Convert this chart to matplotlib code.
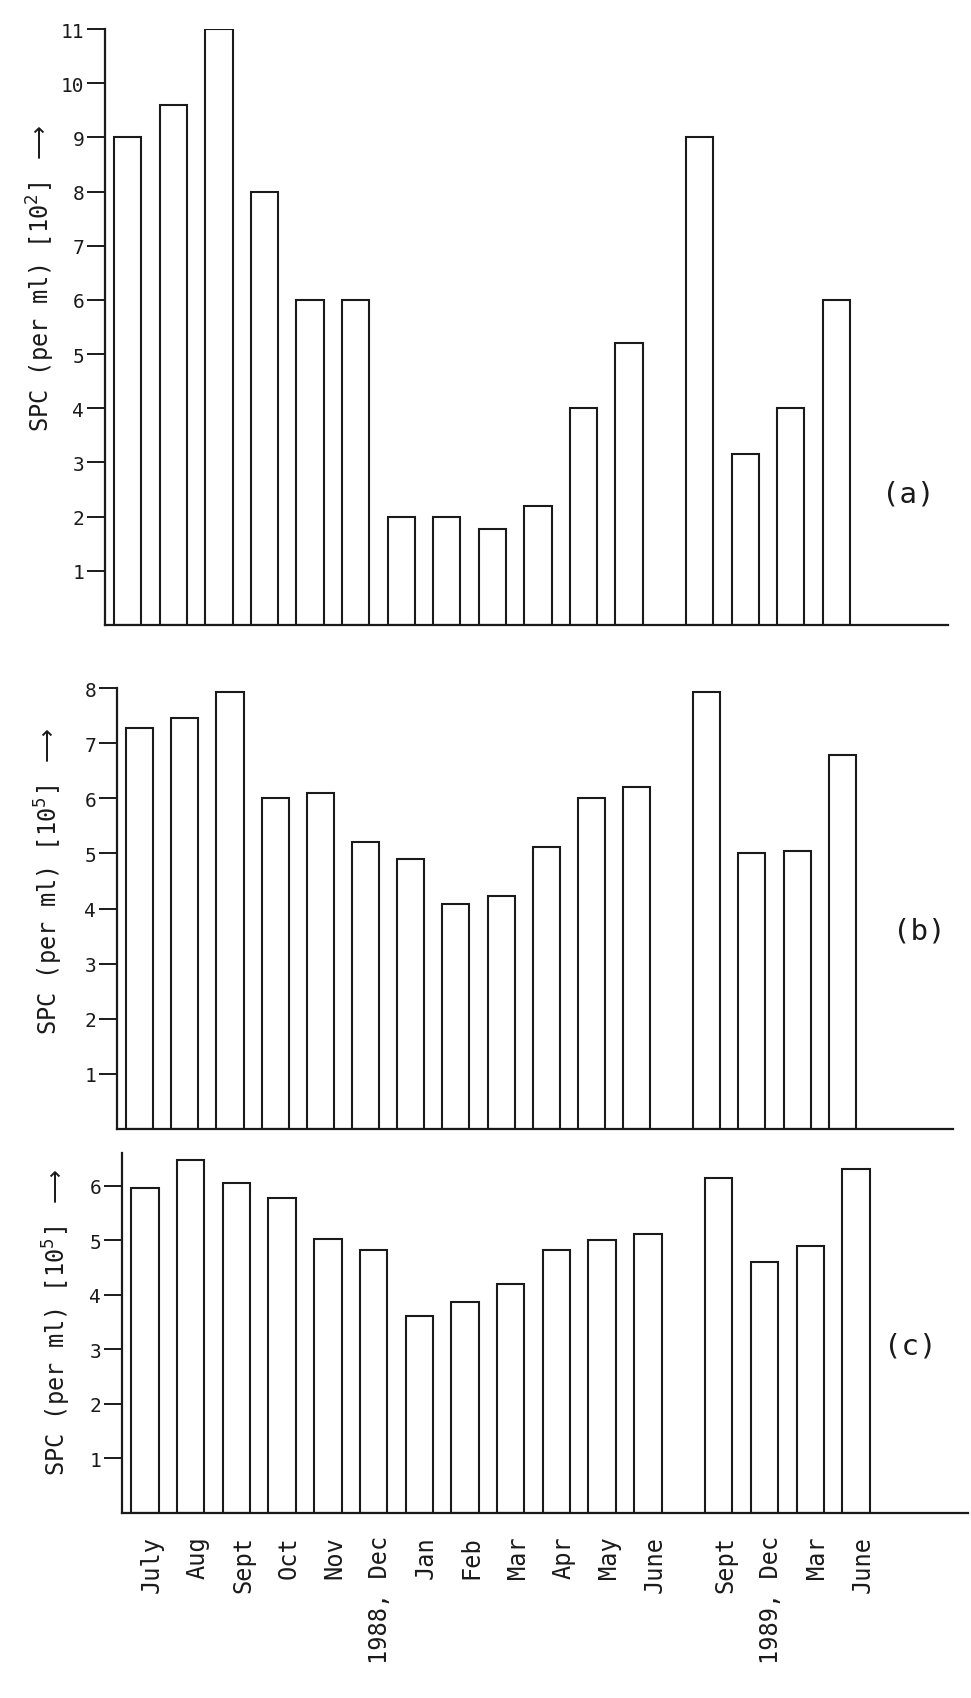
import matplotlib

matplotlib.use("Agg")

import matplotlib.pyplot as plt
import numpy as np


FIG_W, FIG_H = 971, 1699
FONT = "DejaVu Sans Mono"

months = ["July", "Aug", "Sept", "Oct", "Nov", "1988, Dec", "Jan", "Feb",
          "Mar", "Apr", "May", "June", "Sept", "1989, Dec", "Mar", "June"]

# SPC values
spc_a = [9.0, 9.6, 11.0, 8.0, 6.0, 6.0, 2.0, 2.0, 1.78, 2.2, 4.0, 5.2,
         9.0, 3.15, 4.0, 6.0]
spc_b = [7.28, 7.46, 7.93, 6.0, 6.1, 5.2, 4.9, 4.08, 4.22, 5.12, 6.0, 6.2,
         7.93, 5.0, 5.05, 6.79]
spc_c = [5.95, 6.47, 6.05, 5.77, 5.03, 4.83, 3.62, 3.87, 4.2, 4.82, 5.0, 5.12,
         6.15, 4.6, 4.9, 6.3]

ticks_a = list(range(1, 12))
ticks_b = list(range(1, 9))
ticks_c = list(range(1, 7))


def px_axes(fig, left, top, right, bottom):
    return fig.add_axes([left / FIG_W, 1 - bottom / FIG_H,
                         (right - left) / FIG_W, (bottom - top) / FIG_H])


def draw_panel(ax, values, ticks, ymax, positions):
    ax.bar(positions, values, width=0.6, facecolor="white",
           edgecolor="#1a1a1a", linewidth=1.5, align="center")
    ax.set_xlim(-0.5, 18)
    ax.set_ylim(0, ymax)
    for side in ("top", "right"):
        ax.spines[side].set_visible(False)
    for side in ("left", "bottom"):
        ax.spines[side].set_linewidth(1.6)
        ax.spines[side].set_color("#1a1a1a")
    ax.set_yticks(ticks)
    ax.set_yticklabels([str(t) for t in ticks], fontsize=14, family=FONT)
    ax.tick_params(axis="y", length=13, width=1.4, pad=2, colors="#1a1a1a")
    ax.set_xticks([])
    ax.set_facecolor("none")


def main():
    fig = plt.figure(figsize=(FIG_W / 100, FIG_H / 100), dpi=100)
    fig.patch.set_facecolor("white")

    idx = np.arange(len(months))
    positions = idx + np.where(idx >= 12, 0.55, 0.0)

    ax_a = px_axes(fig, 105, 30, 948, 626)
    draw_panel(ax_a, spc_a, ticks_a, 11, positions)

    ax_b = px_axes(fig, 117, 689, 953, 1130)
    draw_panel(ax_b, spc_b, ticks_b, 8, positions)

    ax_c = px_axes(fig, 122, 1154, 968, 1514)
    draw_panel(ax_c, spc_c, ticks_c, 6.6, positions)
    ax_c.set_xticks(positions + 0.15)
    ax_c.set_xticklabels(months, rotation=90, ha="center", va="top",
                         fontsize=17, family=FONT)
    ax_c.tick_params(axis="x", length=0, pad=16, colors="#1a1a1a")

    ylabels = [
        ("SPC (per ml) [10$^2$] $\\longrightarrow$", 41, 279),
        ("SPC (per ml) [10$^5$] $\\longrightarrow$", 49, 882),
        ("SPC (per ml) [10$^5$] $\\longrightarrow$", 57, 1323),
    ]
    for text, x, y in ylabels:
        fig.text(x / FIG_W, 1 - y / FIG_H, text, rotation=90, ha="center",
                 va="center", fontsize=17, family=FONT, color="#1a1a1a")

    for tag, x, y in [("(a)", 908, 495), ("(b)", 919, 932), ("(c)", 910, 1347)]:
        fig.text(x / FIG_W, 1 - y / FIG_H, tag, ha="center", va="center",
                 fontsize=21, family=FONT, color="#1a1a1a")

    fig.savefig("out.png", dpi=100, facecolor="white")
    plt.close(fig)


if __name__ == "__main__":
    main()
